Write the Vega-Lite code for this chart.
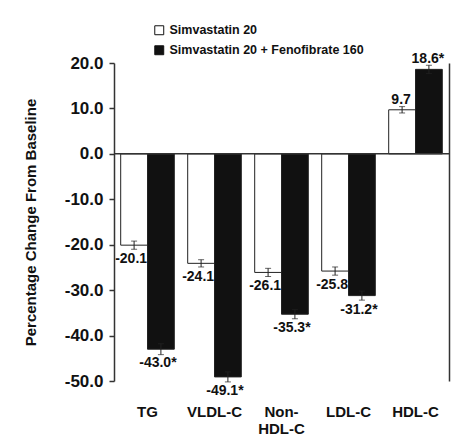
{
  "$schema": "https://vega.github.io/schema/vega-lite/v6.json",
  "width": 335,
  "height": 318,
  "autosize": {"type": "none"},
  "padding": {"left": 114, "top": 63, "right": 11, "bottom": 60},
  "background": "white",
  "config": {
    "font": "Liberation Sans",
    "view": {"stroke": null},
    "axis": {"grid": false}
  },
  "datasets": {
    "bars": [
      {"cat": "TG", "group": "Simvastatin 20", "value": -20.1, "lo": -21.0, "hi": -19.2, "label": "-20.1"},
      {"cat": "TG", "group": "Simvastatin 20 + Fenofibrate 160", "value": -43.0, "lo": -44.2, "hi": -41.8, "label": "-43.0*"},
      {"cat": "VLDL-C", "group": "Simvastatin 20", "value": -24.1, "lo": -24.9, "hi": -23.3, "label": "-24.1"},
      {"cat": "VLDL-C", "group": "Simvastatin 20 + Fenofibrate 160", "value": -49.1, "lo": -50.2, "hi": -48.0, "label": "-49.1*"},
      {"cat": "Non-HDL-C", "group": "Simvastatin 20", "value": -26.1, "lo": -27.0, "hi": -25.2, "label": "-26.1"},
      {"cat": "Non-HDL-C", "group": "Simvastatin 20 + Fenofibrate 160", "value": -35.3, "lo": -36.3, "hi": -34.3, "label": "-35.3*"},
      {"cat": "LDL-C", "group": "Simvastatin 20", "value": -25.8, "lo": -26.7, "hi": -24.9, "label": "-25.8"},
      {"cat": "LDL-C", "group": "Simvastatin 20 + Fenofibrate 160", "value": -31.2, "lo": -32.2, "hi": -30.2, "label": "-31.2*"},
      {"cat": "HDL-C", "group": "Simvastatin 20", "value": 9.7, "lo": 9.0, "hi": 10.4, "label": "9.7"},
      {"cat": "HDL-C", "group": "Simvastatin 20 + Fenofibrate 160", "value": 18.6, "lo": 17.7, "hi": 19.5, "label": "18.6*"}
    ],
    "baseline": [{"zero": 0}]
  },
  "layer": [
    {
      "data": {"name": "bars"},
      "mark": {"type": "bar", "stroke": "#222", "strokeWidth": 1},
      "encoding": {
        "x": {
          "field": "cat",
          "type": "nominal",
          "sort": ["TG", "VLDL-C", "Non-HDL-C", "LDL-C", "HDL-C"],
          "scale": {"paddingInner": 0.2, "paddingOuter": 0.1},
          "axis": {
            "title": null,
            "orient": "bottom",
            "domain": false,
            "ticks": false,
            "labelAngle": 0,
            "labelFontSize": 15,
            "labelFontWeight": "bold",
            "labelColor": "#111",
            "labelPadding": 23,
            "labelBaseline": "top",
            "labelLineHeight": 17,
            "labelExpr": "datum.value == 'Non-HDL-C' ? ['Non-', 'HDL-C'] : datum.value"
          }
        },
        "xOffset": {"field": "group", "type": "nominal", "sort": ["Simvastatin 20", "Simvastatin 20 + Fenofibrate 160"], "scale": {"paddingInner": 0, "paddingOuter": 0}},
        "y": {
          "field": "value",
          "type": "quantitative",
          "scale": {"domain": [-50, 20], "nice": false, "zero": false},
          "axis": {
            "orient": "left",
            "values": [-50, -40, -30, -20, -10, 0, 10, 20],
            "labelExpr": "(datum.value < 0 ? '-' : '') + format(abs(datum.value), '.1f')",
            "labelFontSize": 17,
            "labelFontWeight": "bold",
            "labelColor": "#111",
            "labelPadding": 6,
            "tickSize": 5,
            "tickColor": "#333",
            "domainColor": "#333",
            "domainWidth": 1.5,
            "tickWidth": 1.5,
            "title": "Percentage Change From Baseline",
            "titleFontSize": 15,
            "titleFontWeight": "bold",
            "titleColor": "#111",
            "titlePadding": 26
          }
        },
        "y2": {"datum": 0},
        "fill": {
          "field": "group",
          "type": "nominal",
          "sort": ["Simvastatin 20", "Simvastatin 20 + Fenofibrate 160"],
          "scale": {"domain": ["Simvastatin 20", "Simvastatin 20 + Fenofibrate 160"], "range": ["#ffffff", "#111111"]},
          "legend": {
            "orient": "none",
            "legendX": 39,
            "legendY": -39,
            "title": null,
            "symbolType": "square",
            "symbolSize": 80,
            "symbolStrokeColor": "#111",
            "symbolStrokeWidth": 1,
            "labelFontSize": 12.5,
            "labelFontWeight": "bold",
            "labelColor": "#111",
            "labelOffset": 4,
            "labelLimit": 400,
            "rowPadding": 6
          }
        }
      }
    },
    {
      "data": {"name": "bars"},
      "mark": {"type": "rule", "color": "#222", "strokeWidth": 1},
      "encoding": {
        "x": {"field": "cat", "type": "nominal", "sort": ["TG", "VLDL-C", "Non-HDL-C", "LDL-C", "HDL-C"]},
        "xOffset": {"field": "group", "type": "nominal", "sort": ["Simvastatin 20", "Simvastatin 20 + Fenofibrate 160"]},
        "y": {"field": "lo", "type": "quantitative", "axis": null},
        "y2": {"field": "hi"}
      }
    },
    {
      "data": {"name": "bars"},
      "mark": {"type": "tick", "color": "#222", "thickness": 1, "size": 6},
      "encoding": {
        "x": {"field": "cat", "type": "nominal", "sort": ["TG", "VLDL-C", "Non-HDL-C", "LDL-C", "HDL-C"]},
        "xOffset": {"field": "group", "type": "nominal", "sort": ["Simvastatin 20", "Simvastatin 20 + Fenofibrate 160"]},
        "y": {"field": "lo", "type": "quantitative", "axis": null}
      }
    },
    {
      "data": {"name": "bars"},
      "mark": {"type": "tick", "color": "#222", "thickness": 1, "size": 6},
      "encoding": {
        "x": {"field": "cat", "type": "nominal", "sort": ["TG", "VLDL-C", "Non-HDL-C", "LDL-C", "HDL-C"]},
        "xOffset": {"field": "group", "type": "nominal", "sort": ["Simvastatin 20", "Simvastatin 20 + Fenofibrate 160"]},
        "y": {"field": "hi", "type": "quantitative", "axis": null}
      }
    },
    {
      "data": {"name": "bars"},
      "transform": [{"filter": "datum.value < 0"}],
      "mark": {"type": "text", "fontSize": 14, "fontWeight": "bold", "color": "#111", "baseline": "middle", "dy": 14, "dx": -3},
      "encoding": {
        "x": {"field": "cat", "type": "nominal", "sort": ["TG", "VLDL-C", "Non-HDL-C", "LDL-C", "HDL-C"]},
        "xOffset": {"field": "group", "type": "nominal", "sort": ["Simvastatin 20", "Simvastatin 20 + Fenofibrate 160"]},
        "y": {"field": "value", "type": "quantitative", "axis": null},
        "text": {"field": "label"}
      }
    },
    {
      "data": {"name": "bars"},
      "transform": [{"filter": "datum.value > 0"}],
      "mark": {"type": "text", "fontSize": 14, "fontWeight": "bold", "color": "#111", "baseline": "middle", "dy": -10, "dx": -1},
      "encoding": {
        "x": {"field": "cat", "type": "nominal", "sort": ["TG", "VLDL-C", "Non-HDL-C", "LDL-C", "HDL-C"]},
        "xOffset": {"field": "group", "type": "nominal", "sort": ["Simvastatin 20", "Simvastatin 20 + Fenofibrate 160"]},
        "y": {"field": "value", "type": "quantitative", "axis": null},
        "text": {"field": "label"}
      }
    },
    {
      "data": {"name": "baseline"},
      "mark": {"type": "rule", "color": "#333", "strokeWidth": 1.5},
      "encoding": {
        "y": {
          "field": "zero",
          "type": "quantitative",
          "axis": {"orient": "right", "labels": false, "ticks": false, "title": null, "domain": true, "domainColor": "#333", "domainWidth": 1.5, "grid": false}
        }
      }
    }
  ],
  "resolve": {"scale": {"y": "shared"}, "axis": {"y": "independent"}}
}
